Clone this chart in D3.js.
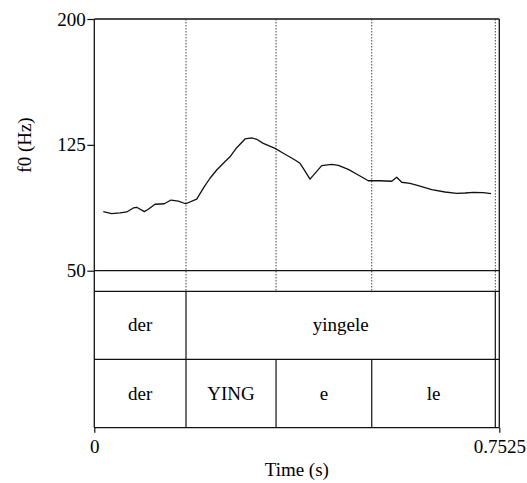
<!DOCTYPE html>
<html>
<head>
<meta charset="utf-8">
<script src="https://cdn.jsdelivr.net/npm/d3@7"></script>
<style>
  html, body { margin: 0; padding: 0; background: #fff; }
  svg { display: block; }
</style>
</head>
<body>
<svg id="chart" width="527" height="483"></svg>
<script>
// Pitch track (time in s, f0 in Hz)
const times = [0.0167, 0.0323, 0.0478, 0.0602, 0.0725, 0.0788, 0.0929, 0.1003, 0.1128, 0.1301,
  0.1425, 0.1561, 0.1698, 0.1903, 0.2044, 0.2150, 0.2274, 0.2397, 0.2521, 0.2646,
  0.2800, 0.2925, 0.3017, 0.3140, 0.3358, 0.3512, 0.3729, 0.3822, 0.3883, 0.4008,
  0.4225, 0.4411, 0.4534, 0.4719, 0.4905, 0.5091, 0.5308, 0.5526, 0.5619, 0.5712,
  0.5866, 0.6020, 0.6269, 0.6516, 0.6734, 0.6888, 0.7042, 0.7228, 0.7371];
const f0 = [85.2, 84.0, 84.4, 85.0, 87.4, 87.8, 85.2, 86.6, 89.6, 89.9,
  92.1, 91.4, 89.9, 92.7, 100.1, 105.1, 110.0, 114.0, 117.9, 123.3,
  128.5, 129.1, 128.3, 125.9, 122.9, 120.0, 116.0, 114.0, 111.0, 104.6,
  112.6, 113.4, 112.8, 110.4, 107.0, 103.6, 103.6, 103.3, 105.7, 102.7,
  102.1, 100.7, 98.3, 96.9, 96.1, 96.3, 96.7, 96.5, 95.9];

// TextGrid tiers: interval boundaries and labels
const wordBounds = [0, 0.1704, 0.7451, 0.7525];
const wordLabels = ["der", "yingele", ""];
const syllBounds = [0, 0.1704, 0.3377, 0.5155, 0.7451, 0.7525];
const syllLabels = ["der", "YING", "e", "le", ""];

// Axis ticks
const f0Ticks = [50, 125, 200];
const timeTicks = [0, 0.7525];
const timeTickLabels = ["0", "0.7525"];

const svg = d3.select("#chart");

const left = 94.3, right = 499.3;
const pitchTop = 19, pitchBottom = 270.7;
const tierTop = 291.3, tierMid = 359.3, tierBottom = 427.7;

const x = d3.scaleLinear().domain([0, 0.7525]).range([left, right]);
const y = d3.scaleLinear().domain([50, 200]).range([pitchBottom, pitchTop]);

function label(g, px, py, str, anchor, rot) {
  return g.append("text")
    .attr("transform", `translate(${px},${py})${rot ? ` rotate(${rot})` : ""}`)
    .attr("text-anchor", anchor)
    .style("font-family", "Liberation Serif")
    .style("font-size", "19px")
    .style("fill", "#000")
    .text(str);
}

const ink = "#111";

// Boundary marks through the pitch area (dotted)
const allBounds = Array.from(new Set([...wordBounds.slice(1, -1), ...syllBounds.slice(1, -1)]));
svg.append("g").selectAll("line").data(allBounds).join("line")
  .attr("x1", d => x(d)).attr("x2", d => x(d))
  .attr("y1", pitchTop).attr("y2", tierTop)
  .attr("stroke", "#444").attr("stroke-width", 1)
  .attr("stroke-dasharray", "1.5,1.5");

// Pitch contour
svg.append("path")
  .datum(times.map((t, i) => [t, f0[i]]))
  .attr("fill", "none")
  .attr("stroke", ink)
  .attr("stroke-width", 1.3)
  .attr("stroke-linejoin", "round")
  .attr("d", d3.line().x(d => x(d[0])).y(d => y(d[1])));

// Frame and tier rules
const frame = svg.append("g").attr("stroke", ink).attr("stroke-width", 1.3);
frame.append("line").attr("x1", left).attr("x2", right).attr("y1", pitchTop).attr("y2", pitchTop);
frame.append("line").attr("x1", left).attr("x2", right).attr("y1", y(50)).attr("y2", y(50));
frame.append("line").attr("x1", left).attr("x2", right).attr("y1", tierTop).attr("y2", tierTop);
frame.append("line").attr("x1", left).attr("x2", right).attr("y1", tierMid).attr("y2", tierMid);
frame.append("line").attr("x1", left).attr("x2", right).attr("y1", tierBottom).attr("y2", tierBottom);
frame.append("line").attr("x1", left).attr("x2", left).attr("y1", pitchTop).attr("y2", tierBottom);
frame.append("line").attr("x1", right).attr("x2", right).attr("y1", pitchTop).attr("y2", tierBottom);

// Tier interval boundaries
const tiers = [
  { bounds: wordBounds, labels: wordLabels, top: tierTop, bottom: tierMid },
  { bounds: syllBounds, labels: syllLabels, top: tierMid, bottom: tierBottom }
];
tiers.forEach(tier => {
  const g = svg.append("g");
  g.selectAll("line").data(tier.bounds.slice(1, -1)).join("line")
    .attr("x1", d => x(d)).attr("x2", d => x(d))
    .attr("y1", tier.top).attr("y2", tier.bottom)
    .attr("stroke", ink).attr("stroke-width", 1.2);
  tier.labels.forEach((lab, i) => {
    if (!lab) return;
    const cx = (x(tier.bounds[i]) + x(tier.bounds[i + 1])) / 2;
    label(g, cx, (tier.top + tier.bottom) / 2 + 6, lab, "middle");
  });
});

// Left axis
const yAxis = svg.append("g")
  .attr("transform", `translate(${left},0)`)
  .call(d3.axisLeft(y).tickValues(f0Ticks).tickSize(7).tickFormat(d3.format("d")));
yAxis.select(".domain").remove();
yAxis.selectAll(".tick line").attr("stroke", ink).attr("stroke-width", 1.2);
yAxis.selectAll(".tick text").remove();
yAxis.selectAll(".tick").each(function (d) {
  label(d3.select(this), -8.5, 6, String(d), "end");
});

// Bottom axis
const xAxis = svg.append("g")
  .attr("transform", `translate(0,${tierBottom})`)
  .call(d3.axisBottom(x).tickValues(timeTicks).tickSize(5));
xAxis.select(".domain").remove();
xAxis.selectAll(".tick line").attr("stroke", ink).attr("stroke-width", 1.2);
xAxis.selectAll(".tick text").remove();
xAxis.selectAll(".tick").each(function (d, i) {
  label(d3.select(this), 0, 25.5, timeTickLabels[i], "middle");
});

// Axis titles
label(svg, (left + right) / 2, 476, "Time (s)", "middle");
label(svg, 31, 145, "f0 (Hz)", "middle", -90);
</script>
</body>
</html>
